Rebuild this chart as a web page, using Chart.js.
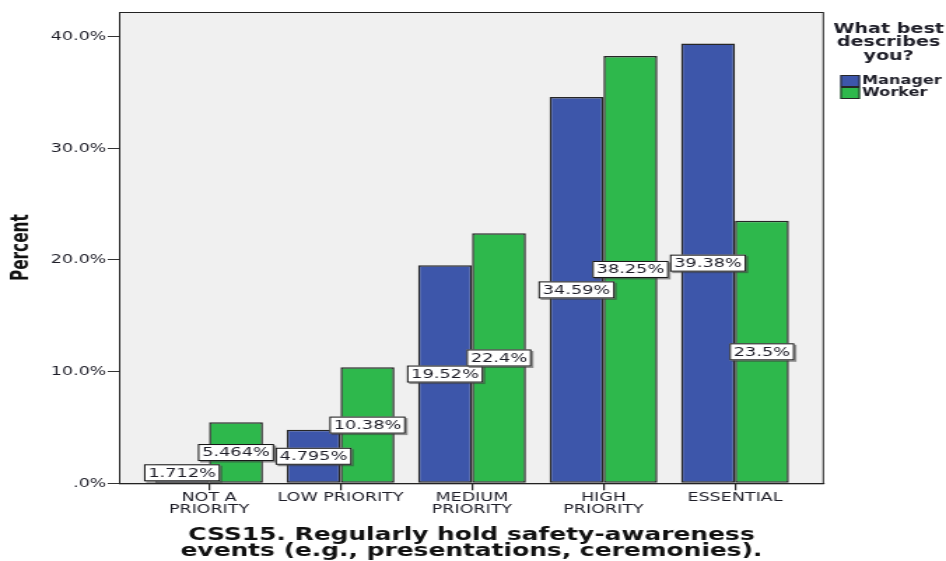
<!DOCTYPE html>
<html>
<head>
<meta charset="utf-8">
<script src="https://cdn.jsdelivr.net/npm/chart.js@4.4.1/dist/chart.umd.min.js"></script>
<style>
    html, body { margin: 0; padding: 0; background: #fff; overflow: hidden; }
</style>
</head>
<body>
<!-- drawn narrow, shown stretched like the exported SPSS picture -->
<canvas id="chart" width="676" height="561" style="display:block;width:946px;height:561px"></canvas>
<script>
const categories = [['NOT A', 'PRIORITY'], 'LOW PRIORITY', ['MEDIUM', 'PRIORITY'], ['HIGH', 'PRIORITY'], 'ESSENTIAL'];
const seriesNames = ['Manager', 'Worker'];
const managerValues = [1.712, 4.795, 19.52, 34.59, 39.38];
const workerValues = [5.464, 10.38, 22.4, 38.25, 23.5];
const yTickValues = [0, 10, 20, 30, 40];
const yTickLabels = ['.0%', '10.0%', '20.0%', '30.0%', '40.0%'];
const legendTitle = ['What best', 'describes', 'you?'];
const xTitle = ['CSS15. Regularly hold safety-awareness', 'events (e.g., presentations, ceremonies).'];
const yTitle = 'Percent';

const BLUE = '#3d56aa';
const GREEN = '#2eb84c';
const EDGE = '#262626';
const INK = '#1e1e28';
const seriesValues = [managerValues, workerValues];
const seriesColors = [BLUE, GREEN];

// grey plot panel with a frame
const panelPlugin = {
    id: 'panel',
    beforeDraw: function (chart) {
        const a = chart.chartArea;
        const ctx = chart.ctx;
        ctx.save();
        ctx.fillStyle = '#f0f0f0';
        ctx.fillRect(a.left, a.top, a.right - a.left, a.bottom - a.top);
        ctx.strokeStyle = '#222';
        ctx.lineWidth = 1;
        ctx.strokeRect(a.left + 0.5, a.top + 0.5, a.right - a.left - 1, a.bottom - a.top);
        ctx.restore();
    }
};

// boxed value labels in the middle of each bar
const valueLabelPlugin = {
    id: 'valueLabels',
    afterDatasetsDraw: function (chart) {
        const ctx = chart.ctx;
        ctx.save();
        ctx.font = '12.7px "DejaVu Sans"';
        ctx.textAlign = 'center';
        ctx.textBaseline = 'middle';
        chart.data.datasets.forEach(function (ds, d) {
            chart.getDatasetMeta(d).data.forEach(function (bar, i) {
                const text = seriesValues[d][i] + '%';
                const w = ctx.measureText(text).width + 6;
                const h = 17;
                let cy = (bar.y + bar.base) / 2;
                cy = Math.min(cy, bar.base - 1.5 - h / 2);
                const x0 = bar.x - w / 2;
                const y0 = cy - h / 2;
                ctx.fillStyle = 'rgba(60,60,60,0.55)';
                ctx.fillRect(x0 + 1.5, y0 + 1.5, w, h);
                ctx.fillStyle = '#fff';
                ctx.fillRect(x0, y0, w, h);
                ctx.strokeStyle = '#111';
                ctx.lineWidth = 1;
                ctx.strokeRect(x0 + 0.5, y0 + 0.5, w - 1, h - 1);
                ctx.fillStyle = INK;
                ctx.fillText(text, bar.x, cy + 0.5);
            });
        });
        ctx.restore();
    }
};

// SPSS style legend on the right
const sideLegendPlugin = {
    id: 'sideLegend',
    afterDraw: function (chart) {
        const ctx = chart.ctx;
        ctx.save();
        ctx.fillStyle = INK;
        ctx.font = 'bold 13.7px "DejaVu Sans"';
        ctx.textAlign = 'center';
        ctx.textBaseline = 'middle';
        legendTitle.forEach(function (line, i) {
            ctx.fillText(line, 635, 29 + i * 13.5);
        });
        ctx.textAlign = 'left';
        ctx.font = 'bold 11.5px "DejaVu Sans"';
        chart.data.datasets.forEach(function (ds, i) {
            const y = 75 + i * 12;
            ctx.fillStyle = ds.backgroundColor;
            ctx.fillRect(600.5, y, 14, 12);
            ctx.strokeStyle = EDGE;
            ctx.lineWidth = 1;
            ctx.strokeRect(601, y + 0.5, 13, 11);
            ctx.fillStyle = INK;
            ctx.fillText(ds.label, 616, y + 6.5);
        });
        ctx.restore();
    }
};

new Chart(document.getElementById('chart'), {
    type: 'bar',
    data: {
        datasets: seriesNames.map(function (name, d) {
            return {
                label: name,
                data: seriesValues[d].map(function (v, i) { return { x: i, y: v }; }),
                backgroundColor: seriesColors[d],
                borderColor: EDGE,
                borderWidth: 1.5,
                borderSkipped: false,
                categoryPercentage: 0.82,
                barPercentage: 1
            };
        })
    },
    options: {
        responsive: false,
        animation: false,
        devicePixelRatio: 1,
        layout: { padding: { top: 12, right: 87.2, bottom: 0, left: 0 } },
        plugins: {
            legend: { display: false },
            tooltip: { enabled: false }
        },
        scales: {
            x: {
                type: 'linear',
                offset: false,
                min: -0.685,
                max: 4.677,
                afterBuildTicks: function (axis) {
                    axis.ticks = categories.map(function (c, i) { return { value: i }; });
                },
                afterFit: function (axis) { axis.height = 77.7; },
                ticks: {
                    autoSkip: false,
                    maxRotation: 0,
                    padding: 1.5,
                    color: INK,
                    font: { family: 'DejaVu Sans', size: 12.5, lineHeight: '12px' },
                    callback: function (value) { return categories[value]; }
                },
                grid: { offset: false, drawOnChartArea: false, tickLength: 7, color: '#222', lineWidth: 1.2 },
                border: { color: '#222', width: 1 },
                title: {
                    display: true,
                    text: xTitle,
                    color: '#111',
                    font: { family: 'DejaVu Sans', weight: 'bold', size: 17.8, lineHeight: '16px' },
                    padding: { top: 4, bottom: 2 }
                }
            },
            y: {
                min: 0,
                max: 42.2,
                afterBuildTicks: function (axis) {
                    axis.ticks = yTickValues.map(function (v) { return { value: v }; });
                },
                afterFit: function (axis) { axis.width = 85; },
                ticks: {
                    padding: 1,
                    color: INK,
                    font: { family: 'DejaVu Sans', size: 12.5 },
                    callback: function (value) { return yTickLabels[yTickValues.indexOf(value)]; }
                },
                grid: { drawOnChartArea: false, tickLength: 8, color: '#333' },
                border: { color: '#222', width: 1 },
                title: {
                    display: true,
                    text: yTitle,
                    color: '#111',
                    font: { family: '"DejaVu Sans Condensed", "DejaVu Sans"', weight: 'bold', size: 17, lineHeight: 1.2 },
                    padding: { top: 5.5, bottom: 0 }
                }
            }
        }
    },
    plugins: [panelPlugin, valueLabelPlugin, sideLegendPlugin]
});
</script>
</body>
</html>
